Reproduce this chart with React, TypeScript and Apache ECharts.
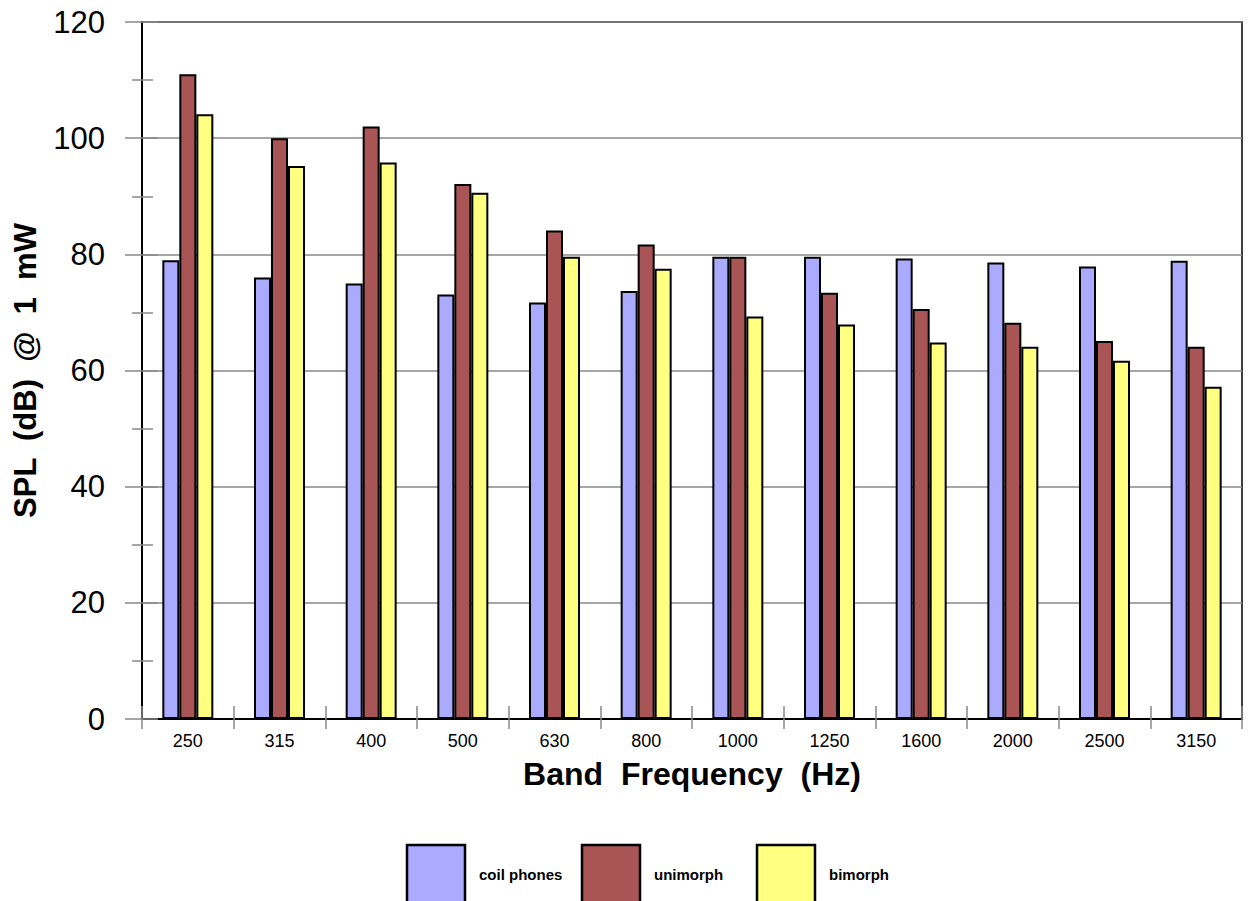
import React, { useEffect, useRef } from "react";
import * as echarts from "echarts";

const categories = ["250", "315", "400", "500", "630", "800", "1000", "1250", "1600", "2000", "2500", "3150"];
const coilphones = [79, 76, 75, 73.1, 71.7, 73.7, 79.6, 79.6, 79.3, 78.6, 77.9, 78.9];
const unimorph = [111, 100, 102, 92.1, 84.1, 81.7, 79.6, 73.4, 70.6, 68.2, 65.1, 64.1];
const bimorph = [104.1, 95.2, 95.8, 90.6, 79.6, 77.5, 69.3, 67.9, 64.8, 64.1, 61.7, 57.2];
const seriesNames = ["coil phones", "unimorph", "bimorph"];
const seriesColors = ["#AAAAFF", "#AA5555", "#FFFF80"];

const FONT = "'Liberation Sans', Arial, Helvetica, sans-serif";
const legendLefts = [407, 582, 757];

export default function App() {
  const ref = useRef<HTMLDivElement>(null);
  useEffect(() => {
    if (!ref.current) return;
    const chart = echarts.init(ref.current, null, { renderer: "svg" });
    const grey = "#888888";
    const yBase = {
      type: "value",
      min: 0,
      max: 120,
      interval: 20,
      position: "left",
    };
    const xBase = {
      type: "category",
      data: categories,
      position: "bottom",
      boundaryGap: true,
    };
    const dataArr = [coilphones, unimorph, bimorph];
    chart.setOption({
      animation: false,
      backgroundColor: "#ffffff",
      grid: {
        left: 142,
        top: 22,
        width: 1100,
        height: 697,
        show: true,
        borderColor: "#000",
        borderWidth: 1.5,
        backgroundColor: "transparent",
      },
      legend: seriesNames.map((n, i) => ({
        data: [n],
        left: legendLefts[i],
        top: 844,
        padding: 0,
        itemWidth: 58,
        itemHeight: 58,
        icon: "rect",
        itemStyle: { opacity: 0 },
        textStyle: {
          fontFamily: FONT,
          fontWeight: "bold",
          fontSize: 15,
          color: "#000",
          padding: [0, 0, 0, 8],
        },
      })),
      graphic: legendLefts.map((l, i) => ({
        type: "rect",
        x: l,
        y: 845,
        silent: true,
        z: 100,
        shape: { x: 0, y: 0, width: 58, height: 60 },
        style: { fill: seriesColors[i], stroke: "#000000", lineWidth: 2.5 },
      })),
      xAxis: [
        {
          ...xBase,
          name: "Band  Frequency  (Hz)",
          nameLocation: "middle",
          nameGap: 39,
          nameTextStyle: { fontFamily: FONT, fontWeight: "bold", fontSize: 32, color: "#000" },
          axisLine: { show: true, lineStyle: { color: "#000", width: 2 } },
          axisTick: { show: true, inside: false, length: 10, lineStyle: { color: grey, width: 1.5 } },
          axisLabel: { fontFamily: FONT, fontSize: 18, color: "#000", margin: 13 },
          splitLine: { show: false },
        },
        {
          ...xBase,
          axisLine: { show: false },
          axisTick: { show: true, inside: true, length: 13, lineStyle: { color: grey, width: 1.5 } },
          axisLabel: { show: false },
          splitLine: { show: false },
        },
      ],
      yAxis: [
        {
          ...yBase,
          name: "SPL  (dB)  @  1  mW",
          nameLocation: "middle",
          nameGap: 101,
          nameTextStyle: { fontFamily: FONT, fontWeight: "bold", fontSize: 31, color: "#000" },
          axisLine: { show: true, lineStyle: { color: "#000", width: 2 } },
          axisTick: { show: true, inside: false, length: 17, lineStyle: { color: grey, width: 1.5 } },
          minorTick: { show: true, splitNumber: 2, length: 10, lineStyle: { color: grey, width: 1.5 } },
          axisLabel: { fontFamily: FONT, fontSize: 31, color: "#000", margin: 37 },
          splitLine: { show: true, lineStyle: { color: grey, width: 1.5 } },
        },
        {
          ...yBase,
          axisLine: { show: false },
          axisTick: { show: true, inside: true, length: 16, lineStyle: { color: grey, width: 1.5 } },
          minorTick: { show: true, splitNumber: 2, length: 11, lineStyle: { color: grey, width: 1.5 } },
          axisLabel: { show: false },
          splitLine: { show: false },
        },
      ],
      series: seriesNames.map((n, i) => ({
        name: n,
        type: "bar",
        xAxisIndex: 0,
        yAxisIndex: 0,
        data: dataArr[i],
        barWidth: 17,
        barGap: "0%",
        itemStyle: { color: seriesColors[i], borderColor: "#000000", borderWidth: 2 },
        z: 3,
      })),
    });
    return () => chart.dispose();
  }, []);
  return (
    <div
      ref={ref}
      style={{ position: "absolute", left: 0, top: 0, width: 1249, height: 901 }}
    />
  );
}
